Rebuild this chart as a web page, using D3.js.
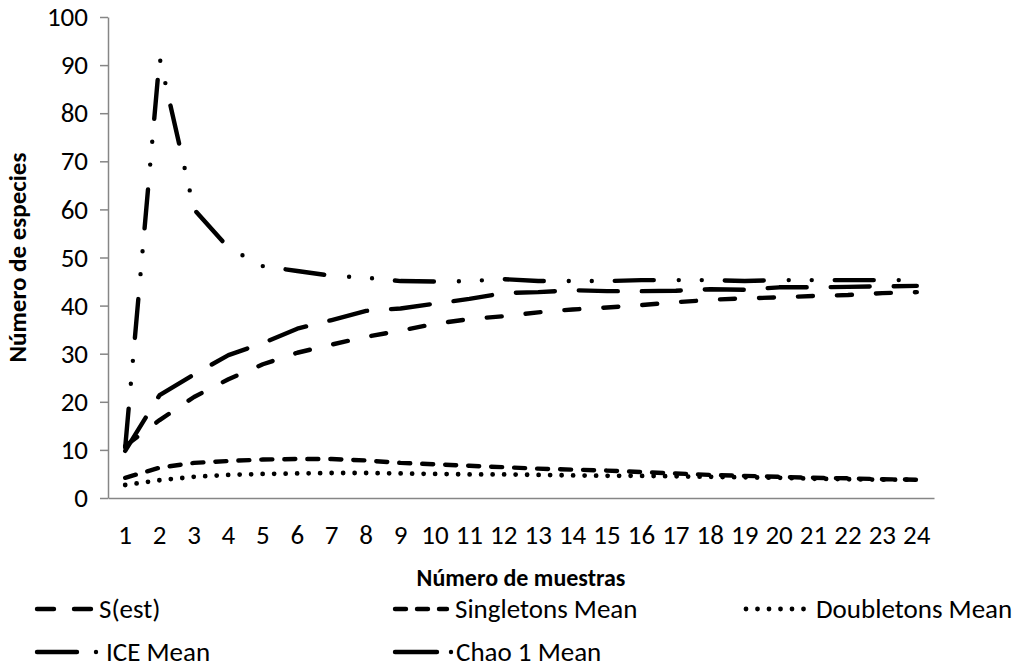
<!DOCTYPE html>
<html>
<head>
<meta charset="utf-8">
<script src="https://cdn.jsdelivr.net/npm/d3@7"></script>
<style>
  html, body { margin: 0; padding: 0; background: #fff; }
  svg { display: block; }
  text { font-family: Carlito, Calibri, Lato, sans-serif; fill: #000; }
</style>
</head>
<body>
<svg id="chart" width="1023" height="668"></svg>
<script>
// ---- data ----
const muestras = d3.range(1, 25);
const sEst = [10.8, 16.2, 21.0, 24.7, 27.8, 30.2, 31.9, 33.5, 34.8, 36.2, 37.2, 37.8, 38.6, 39.2, 39.6, 40.1, 40.7, 41.2, 41.5, 41.7, 42.0, 42.2, 42.6, 42.8];
const singletons = [4.2, 6.3, 7.3, 7.7, 8.0, 8.1, 8.1, 7.8, 7.3, 7.0, 6.7, 6.4, 6.1, 5.9, 5.7, 5.4, 5.1, 4.8, 4.6, 4.4, 4.2, 4.1, 3.9, 3.8];
const doubletons = [2.7, 3.7, 4.4, 4.8, 5.0, 5.1, 5.2, 5.2, 5.1, 5.0, 4.9, 4.9, 4.8, 4.7, 4.6, 4.6, 4.5, 4.4, 4.3, 4.2, 4.0, 3.9, 3.8, 3.8];
const ice = [9.8, 21.4, 25.7, 29.7, 32.2, 35.2, 37.0, 38.9, 39.4, 40.4, 41.4, 42.6, 42.8, 43.2, 43.0, 43.0, 43.1, 43.4, 43.3, 43.8, 43.8, 43.9, 44.0, 44.1];
const chao1 = [10.5, 91.5, 60.0, 52.0, 48.2, 47.2, 46.2, 45.8, 45.1, 45.0, 45.1, 45.5, 45.1, 45.1, 45.1, 45.3, 45.3, 45.3, 45.1, 45.3, 45.3, 45.3, 45.3, 45.3];
const yTicks = [0, 10, 20, 30, 40, 50, 60, 70, 80, 90, 100];
const seriesNames = ["S(est)", "Singletons Mean", "Doubletons Mean", "ICE Mean", "Chao 1 Mean"];

// ---- styles ----
const styles = {
  "S(est)":          { dash: "15,24", width: 4.4, legendDash: "17,20" },
  "Singletons Mean": { dash: "11,12", width: 4.4, legendDash: "11,11" },
  "Doubletons Mean": { dash: "0,11.5", width: 4.8, legendDash: "0,11.5" },
  "ICE Mean":        { dash: "39,24", width: 4.4, legendDash: "40,19,0,200" },
  "Chao 1 Mean":     { dash: "39,25,0,23,0,23", width: 4.4, legendDash: "42,14,0,200" }
};
const seriesData = [sEst, singletons, doubletons, ice, chao1];

const svg = d3.select("#chart");
const mLeft = 108, mRight = 934, mTop = 17, mBottom = 498;

const x = d3.scaleBand().domain(muestras).range([mLeft, mRight]).padding(0);
const y = d3.scaleLinear().domain([0, 100]).range([mBottom, mTop]);
const axisColor = "#868686";
const fs = 27;
const fontStack = "Carlito, Calibri, Lato, sans-serif";

// y axis
const yAxis = svg.append("g").attr("transform", `translate(${mLeft},0)`)
  .call(d3.axisLeft(y).tickValues(yTicks).tickSize(8).tickSizeOuter(0).tickPadding(12));
yAxis.select(".domain").attr("stroke", axisColor).attr("stroke-width", 1.5);
yAxis.selectAll(".tick line").attr("stroke", axisColor).attr("stroke-width", 1.5);
yAxis.selectAll(".tick text").style("font-size", fs + "px").style("font-family", fontStack).attr("fill", "#000");

// x axis
const xAxis = svg.append("g").attr("transform", `translate(0,${mBottom})`)
  .call(d3.axisBottom(x).tickSize(0).tickSizeOuter(0).tickPadding(27));
xAxis.select(".domain").attr("stroke", axisColor).attr("stroke-width", 1.5);
xAxis.selectAll(".tick text").style("font-size", fs + "px").style("font-family", fontStack).attr("fill", "#000");

// titles
svg.append("text").attr("x", (mLeft + mRight) / 2).attr("y", 586)
  .attr("text-anchor", "middle").style("font-size", "24px").style("font-weight", "bold")
  .text("Número de muestras");
svg.append("text").attr("transform", `translate(26,${(mTop + mBottom) / 2}) rotate(-90)`)
  .attr("text-anchor", "middle").style("font-size", "25px").style("font-weight", "bold")
  .text("Número de especies");

// lines
const line = d3.line().x((d, i) => x(muestras[i]) + x.bandwidth() / 2).y(d => y(d));
seriesNames.forEach((name, k) => {
  const st = styles[name];
  svg.append("path").datum(seriesData[k])
    .attr("d", line)
    .attr("fill", "none")
    .attr("stroke", "#000")
    .attr("stroke-width", st.width)
    .attr("stroke-linecap", "round")
    .attr("stroke-linejoin", "round")
    .attr("stroke-dasharray", st.dash);
});

// legend
const legendItems = [
  { name: "S(est)", x0: 37, x1: 91, tx: 99, ly: 609 },
  { name: "Singletons Mean", x0: 395, x1: 447, tx: 455, ly: 609 },
  { name: "Doubletons Mean", x0: 746, x1: 804, tx: 816, ly: 609 },
  { name: "ICE Mean", x0: 37, x1: 100, tx: 106, ly: 652 },
  { name: "Chao 1 Mean", x0: 395, x1: 452, tx: 456, ly: 652 }
];
const lg = svg.append("g");
legendItems.forEach(it => {
  const st = styles[it.name];
  lg.append("path")
    .attr("d", d3.line()([[it.x0, it.ly], [it.x1, it.ly]]))
    .attr("stroke", "#000").attr("stroke-width", st.width)
    .attr("stroke-linecap", "round").attr("fill", "none")
    .attr("stroke-dasharray", st.legendDash);
  lg.append("text").attr("x", it.tx).attr("y", it.ly).attr("dy", "0.35em")
    .style("font-size", fs + "px").text(it.name);
});
</script>
</body>
</html>
